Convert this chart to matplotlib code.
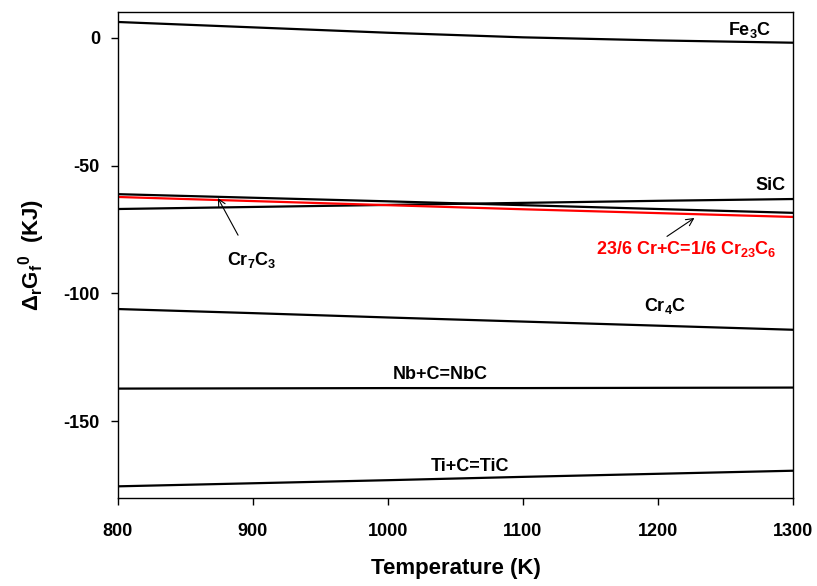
import numpy as np
import matplotlib
matplotlib.use("Agg")
from matplotlib import pyplot as plt

plt.rcParams['font.family'] = ['Liberation Sans', 'DejaVu Sans']
plt.rcParams['font.weight'] = 'bold'
plt.rcParams['mathtext.default'] = 'regular'
plt.rcParams['axes.unicode_minus'] = False

# temperature (K)
temp = [800, 900, 1000, 1100, 1200, 1300]

# Gibbs energy of formation (kJ)
fe3c = [6.1, 4.0, 1.9, 0.1, -1.1, -2.0]
sic = [-67.0, -66.2, -65.4, -64.6, -63.8, -63.1]
cr7c3 = [-61.2, -62.6, -64.0, -65.5, -67.0, -68.5]
cr23c6 = [-62.3, -63.9, -65.5, -67.1, -68.6, -70.1]
cr4c = [-106.1, -107.7, -109.4, -111.0, -112.6, -114.2]
nbc = [-137.2, -137.1, -137.0, -137.0, -136.9, -136.8]
tic = [-175.4, -174.2, -173.0, -171.7, -170.5, -169.3]

fig = plt.figure(figsize=(8.17, 5.86), dpi=100)
ax = fig.add_axes([0.1444, 0.150, 0.8262, 0.8295])

for y in [fe3c, sic, cr7c3, cr4c, nbc, tic]:
    ax.plot(temp, y, color='black', lw=1.6)
ax.plot(temp, cr23c6, color='red', lw=1.6)

ax.set_xlim(800, 1300)
ax.set_ylim(-180, 10)
ax.set_xticks([800, 900, 1000, 1100, 1200, 1300])
ax.set_yticks([0, -50, -100, -150])
ax.tick_params(direction='out', length=5, width=1, labelsize=13)
ax.tick_params(axis='x', pad=13)
ax.tick_params(axis='y', pad=8)
for lab in ax.get_xticklabels() + ax.get_yticklabels():
    lab.set_fontweight('bold')
for s in ax.spines.values():
    s.set_linewidth(1.0)

ax.set_xlabel('Temperature (K)', fontsize=16, fontweight='bold', labelpad=13)
ax.set_ylabel('Δ$_r$G$_f$$^0$  (KJ)', fontsize=16, fontweight='bold', labelpad=12)

kw = dict(fontsize=13, fontweight='bold', ha='center', va='center')
ax.text(1268, 3.0, 'Fe$_3$C', **kw)
ax.text(1283, -57.8, 'SiC', **kw)
ax.text(1205, -105.0, 'Cr$_4$C', **kw)
ax.text(1039, -131.8, 'Nb+C=NbC', **kw)
ax.text(1061, -167.6, 'Ti+C=TiC', **kw)

ax.annotate('Cr$_7$C$_3$', xy=(874, -62.7), xytext=(899, -87.0),
            fontsize=13, fontweight='bold', ha='center', va='center',
            arrowprops=dict(arrowstyle='->', color='black', lw=0.8,
                            shrinkA=10, shrinkB=0))
ax.annotate('23/6 Cr+C=1/6 Cr$_{23}$C$_6$', xy=(1227, -70.5), xytext=(1221, -82.7),
            fontsize=13, fontweight='bold', color='red', ha='center', va='center',
            arrowprops=dict(arrowstyle='->', color='black', lw=0.8,
                            shrinkA=0, shrinkB=0, relpos=(0.37, 1.0)))

fig.savefig('out.png', dpi=100)
